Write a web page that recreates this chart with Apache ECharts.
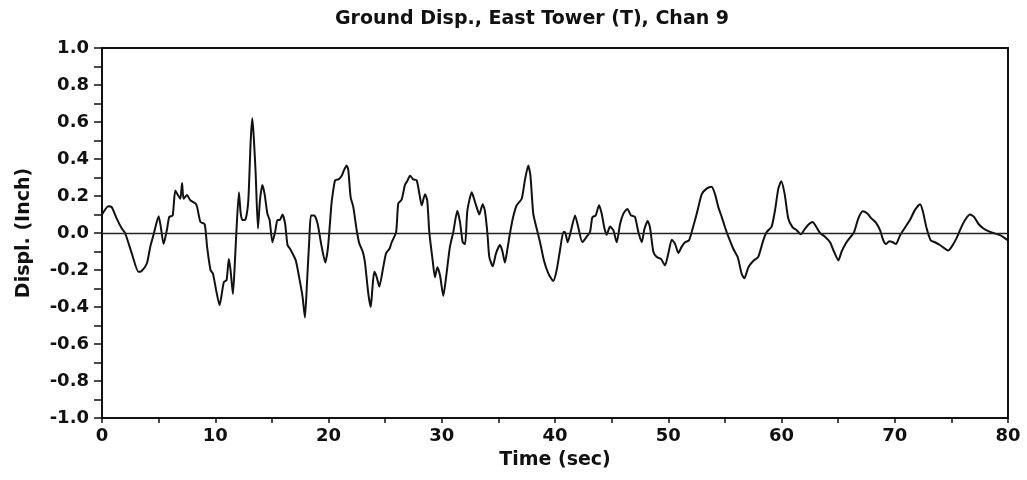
<!DOCTYPE html>
<html>
<head>
<meta charset="utf-8">
<script src="https://cdn.jsdelivr.net/npm/echarts@6/dist/echarts.min.js"></script>
<style>
html,body{margin:0;padding:0;background:#fff;}
#chart{width:1027px;height:480px;}
</style>
</head>
<body>
<div id="chart"></div>
<script>
// Time (sec) and ground displacement (inch)
const timeSec = [
0,0.56,0.86,1.3,1.75,2.04,2.63,3.22,3.5,3.96,4.26,4.55,5.0,5.2,5.44,5.74,5.94,6.24,6.47,6.7,
6.92,7.07,7.2,7.5,7.8,8.25,8.4,8.69,9.07,9.28,9.58,9.8,10.08,10.38,10.55,10.76,11.0,11.2,11.35,11.56,
11.74,11.86,12.09,12.24,12.39,12.68,12.92,13.13,13.27,13.4,13.57,13.77,13.95,14.16,14.36,14.6,14.8,15.05,15.3,15.49,
15.7,15.94,16.17,16.38,16.6,16.82,17.12,17.41,17.71,17.92,18.1,18.3,18.45,18.74,19.04,19.34,19.72,19.95,20.1,20.25,
20.37,20.58,20.87,21.17,21.37,21.6,21.75,21.95,22.19,22.49,22.72,23.02,23.22,23.52,23.73,23.89,24.04,24.24,24.49,24.79,
25.08,25.39,25.58,25.97,26.16,26.46,26.75,26.95,27.2,27.48,27.79,28.03,28.23,28.52,28.72,28.9,29.2,29.4,29.61,29.85,
30.14,30.37,30.72,31.02,31.37,31.61,31.85,32.06,32.26,32.65,32.85,33.08,33.32,33.61,33.81,34.03,34.2,34.5,34.79,35.14,
35.34,35.58,35.79,36.03,36.32,36.62,37.06,37.34,37.64,37.83,38.08,38.38,38.68,39.03,39.42,39.85,40.15,40.44,40.74,40.88,
41.12,41.42,41.77,42.06,42.41,42.8,43.09,43.3,43.59,43.89,44.12,44.35,44.56,44.86,45.15,45.45,45.75,46.04,46.39,46.71,
47.06,47.36,47.66,47.89,48.19,48.39,48.68,48.98,49.36,49.71,50.01,50.31,50.61,50.89,51.18,51.48,51.83,52.07,52.52,52.96,
53.39,53.83,54.13,54.42,54.72,55.02,55.31,55.74,56.13,56.48,56.72,57.08,57.52,57.94,58.39,58.69,59.13,59.42,59.72,59.98,
60.28,60.6,60.98,61.34,61.7,62.08,62.46,62.75,63.05,63.4,63.84,64.29,64.63,65.02,65.31,65.7,66.05,66.41,66.78,67.17,
67.58,67.96,68.35,68.7,68.99,69.22,69.51,69.82,70.11,70.47,70.91,71.34,71.79,72.23,72.47,72.82,73.18,73.55,73.99,74.44,
74.73,75.12,75.48,75.82,76.21,76.64,77.0,77.38,77.83,78.26,78.7,79.3,80
];
const displInch = [
0.10,0.145,0.14,0.078,0.024,0.0,-0.11,-0.21,-0.205,-0.165,-0.075,-0.01,0.09,0.03,-0.06,0.02,0.087,0.095,0.23,0.205,
0.185,0.27,0.185,0.205,0.177,0.16,0.14,0.06,0.047,-0.075,-0.2,-0.22,-0.31,-0.39,-0.34,-0.265,-0.255,-0.14,-0.2,-0.33,
-0.15,0.0,0.22,0.11,0.07,0.075,0.177,0.5,0.62,0.52,0.32,0.024,0.177,0.26,0.21,0.105,0.07,-0.05,0.01,0.07,
0.07,0.1,0.05,-0.065,-0.085,-0.11,-0.15,-0.24,-0.345,-0.457,-0.27,-0.04,0.095,0.095,0.05,-0.055,-0.16,-0.08,0.03,0.15,
0.21,0.285,0.29,0.31,0.34,0.365,0.34,0.195,0.14,0.015,-0.057,-0.1,-0.16,-0.33,-0.4,-0.29,-0.21,-0.235,-0.29,-0.2,
-0.11,-0.085,-0.05,0.005,0.16,0.18,0.26,0.28,0.31,0.29,0.285,0.21,0.15,0.21,0.175,0.005,-0.15,-0.24,-0.185,-0.23,
-0.34,-0.245,-0.075,0.005,0.12,0.06,-0.05,-0.06,0.12,0.22,0.185,0.14,0.1,0.155,0.12,0.0,-0.13,-0.18,-0.11,-0.065,
-0.095,-0.16,-0.09,0.0,0.09,0.15,0.185,0.285,0.365,0.31,0.105,0.024,-0.05,-0.15,-0.22,-0.26,-0.2,-0.093,0.005,0.005,
-0.05,0.015,0.095,0.03,-0.05,-0.02,0.005,0.085,0.095,0.15,0.105,0.03,-0.01,0.035,0.015,-0.05,0.05,0.105,0.13,0.095,
0.087,0.005,-0.05,0.02,0.065,0.03,-0.1,-0.13,-0.14,-0.175,-0.11,-0.036,-0.06,-0.108,-0.075,-0.05,-0.04,0.005,0.105,0.21,
0.24,0.25,0.21,0.14,0.087,0.03,-0.02,-0.085,-0.13,-0.22,-0.245,-0.185,-0.15,-0.13,-0.04,0.005,0.035,0.12,0.24,0.28,
0.21,0.078,0.03,0.015,-0.007,0.024,0.05,0.06,0.035,0.0,-0.02,-0.05,-0.1,-0.148,-0.1,-0.054,-0.025,0.005,0.078,0.117,
0.105,0.078,0.055,0.015,-0.04,-0.06,-0.045,-0.05,-0.06,-0.012,0.03,0.07,0.125,0.155,0.12,0.024,-0.04,-0.05,-0.065,-0.085,
-0.095,-0.065,-0.025,0.024,0.07,0.1,0.087,0.05,0.024,0.01,0.0,-0.012,-0.04
];
const titleText = 'Ground Disp., East Tower (T), Chan 9';
const xName = 'Time (sec)';
const yName = 'Displ. (Inch)';

const seriesData = timeSec.map((t, i) => [t, displInch[i]]);
const FONT = 'DejaVu Sans';

const chart = echarts.init(document.getElementById('chart'), null, {renderer: 'canvas'});
chart.setOption({
  animation: false,
  backgroundColor: '#fff',
  title: {
    text: titleText,
    left: 330,
    top: 5,
    textStyle: {fontFamily: FONT, fontWeight: 'bold', fontSize: 19, color: '#111'}
  },
  grid: {left: 102, right: 19, top: 48, bottom: 62, show: true, borderColor: '#111', borderWidth: 2, backgroundColor: 'transparent'},
  xAxis: {
    type: 'value', min: 0, max: 80, interval: 10,
    name: xName, nameLocation: 'middle', nameGap: 33,
    nameTextStyle: {fontFamily: FONT, fontWeight: 'bold', fontSize: 19, color: '#111'},
    axisLine: {show: true, onZero: false, lineStyle: {color: '#111', width: 2}},
    axisTick: {show: true, inside: false, length: 5, lineStyle: {color: '#111', width: 1.5}},
    minorTick: {show: true, splitNumber: 2, length: 5, lineStyle: {color: '#111', width: 1.5}},
    axisLabel: {fontFamily: FONT, fontWeight: 'bold', fontSize: 18, color: '#111', margin: 9},
    splitLine: {show: false}
  },
  yAxis: {
    type: 'value', min: -1, max: 1, interval: 0.2,
    name: yName, nameLocation: 'middle', nameGap: 68, nameRotate: 90,
    nameTextStyle: {fontFamily: FONT, fontWeight: 'bold', fontSize: 19, color: '#111'},
    axisLine: {show: true, lineStyle: {color: '#111', width: 2}},
    axisTick: {show: true, inside: false, length: 8, lineStyle: {color: '#111', width: 1.5}},
    minorTick: {show: true, splitNumber: 2, length: 8, lineStyle: {color: '#111', width: 1.5}},
    axisLabel: {fontFamily: FONT, fontWeight: 'bold', fontSize: 18, color: '#111', margin: 13,
      formatter: v => v.toFixed(1)},
    splitLine: {show: false}
  },
  series: [{
    type: 'line',
    data: seriesData,
    showSymbol: false,
    smooth: 0.2,
    lineStyle: {color: '#111', width: 2},
    markLine: {
      silent: true, symbol: 'none', label: {show: false},
      lineStyle: {color: '#222', width: 1.3, type: 'solid'},
      data: [{yAxis: 0}]
    }
  }]
});
</script>
</body>
</html>
